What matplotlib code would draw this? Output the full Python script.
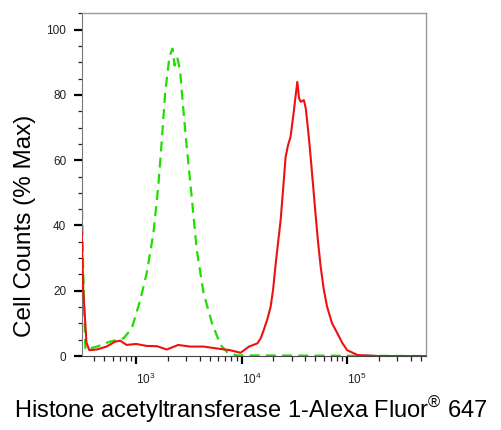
import matplotlib
matplotlib.use("Agg")
import matplotlib.pyplot as plt
from matplotlib.ticker import LogLocator, NullFormatter, MultipleLocator

plt.rcParams['font.family'] = ['Liberation Sans', 'DejaVu Sans']
plt.rcParams['mathtext.fontset'] = 'custom'
plt.rcParams['mathtext.rm'] = 'Liberation Sans'
plt.rcParams['mathtext.it'] = 'Liberation Sans:italic'

# sample (red, solid) - fluorescence intensity vs % max
red_x = [305, 316, 339, 361, 424, 525, 631, 708, 813, 1000, 1259, 1585, 1950,
         2512, 3236, 4365, 5888, 7762, 9772, 11750, 14125, 15200, 16218, 17500,
         18836, 19900, 20893, 22100, 23442, 25119, 26122, 27500, 29107, 31333,
         32700, 33729, 35000, 36308, 38905, 40500, 41687, 43500, 45082, 47500,
         50119, 53000, 56105, 60000, 64565, 72000, 80724, 90000, 100000,
         125893, 200000, 557000]
red_y = [38, 20, 4, 1.8, 2.0, 2.9, 4.4, 4.7, 3.4, 3.7, 3.1, 3.0, 2.0,
         3.4, 2.9, 2.9, 2.3, 1.8, 1.0, 2.9, 3.9, 5.5, 8, 11.2,
         15.1, 20.5, 27.4, 34.5, 41.7, 53.9, 61, 64.5, 67.2, 75.3,
         80.5, 84, 79, 77.9, 78.4, 76, 72.3, 66.5, 61, 52.5,
         43.7, 35, 27.4, 20.5, 15.1, 10, 7, 4, 1.8,
         0.3, 0, 0]

# isotype control (green, dashed)
green_x = [305, 316, 331, 427, 562, 759, 912, 1096, 1259, 1459, 1622, 1754,
           1884, 2070, 2213, 2317, 2455, 2612, 2754, 3020, 3388, 3758, 4365,
           5248, 6310, 7244, 8913, 557000]
green_y = [50, 25, 2, 2.9, 4.4, 5.4, 8.5, 17.2, 25.3, 37.6, 51.9, 66.2,
           80.5, 91.7, 94.2, 89, 91.5, 87.6, 78.4, 64.1, 47.8, 32.5, 19.2,
           10, 3.4, 1.3, 0.2, 0]

xticks = [1e3, 1e4, 1e5]
xtick_labels = [r'$\mathregular{10^{3}}$', r'$\mathregular{10^{4}}$', r'$\mathregular{10^{5}}$']
yticks = [0, 20, 40, 60, 80, 100]

fig = plt.figure(figsize=(5.01, 4.30), dpi=100)
ax = fig.add_axes([0.163, 0.172, 0.687, 0.797])

ax.plot(green_x, green_y, color='#22dd00', lw=1.6, dashes=(4.5, 2.8), zorder=2)
ax.plot(red_x, red_y, color='#ee1111', lw=1.5, zorder=3)

ax.set_xscale('log')
ax.set_xlim(305, 557000)
ax.set_ylim(0, 105)

ax.set_xticks(xticks, xtick_labels)
ax.xaxis.set_minor_locator(LogLocator(base=10, subs=range(2, 10), numticks=20))
ax.xaxis.set_minor_formatter(NullFormatter())
ax.set_yticks(yticks)
ax.yaxis.set_minor_locator(MultipleLocator(5))

ax.tick_params(axis='both', which='major', direction='out', length=6, width=1.6,
               color='black', labelsize=8.5, labelcolor='#222222')
ax.tick_params(axis='x', which='minor', direction='out', length=3.6, width=0.9, color='#222222')
ax.tick_params(axis='y', which='minor', direction='out', length=3, width=0.9, color='#222222')
ax.tick_params(axis='y', which='major', pad=5)
ax.tick_params(axis='x', which='major', pad=5)
for lab in ax.get_xticklabels():
    lab.set_horizontalalignment('left')

for side in ['top', 'right']:
    ax.spines[side].set_color('#999999')
    ax.spines[side].set_linewidth(1.0)
ax.spines['left'].set_color('#777777')
ax.spines['bottom'].set_color('#444444')

ax.set_ylabel('Cell Counts (% Max)', fontsize=17.5)
ax.yaxis.set_label_coords(-0.133, 0.381)
ax.set_xlabel(r'Histone acetyltransferase 1-Alexa Fluor$\mathregular{^{®}}$ 647', fontsize=17)
ax.xaxis.set_label_coords(0.49, -0.112)

fig.savefig('out.png', dpi=100)
